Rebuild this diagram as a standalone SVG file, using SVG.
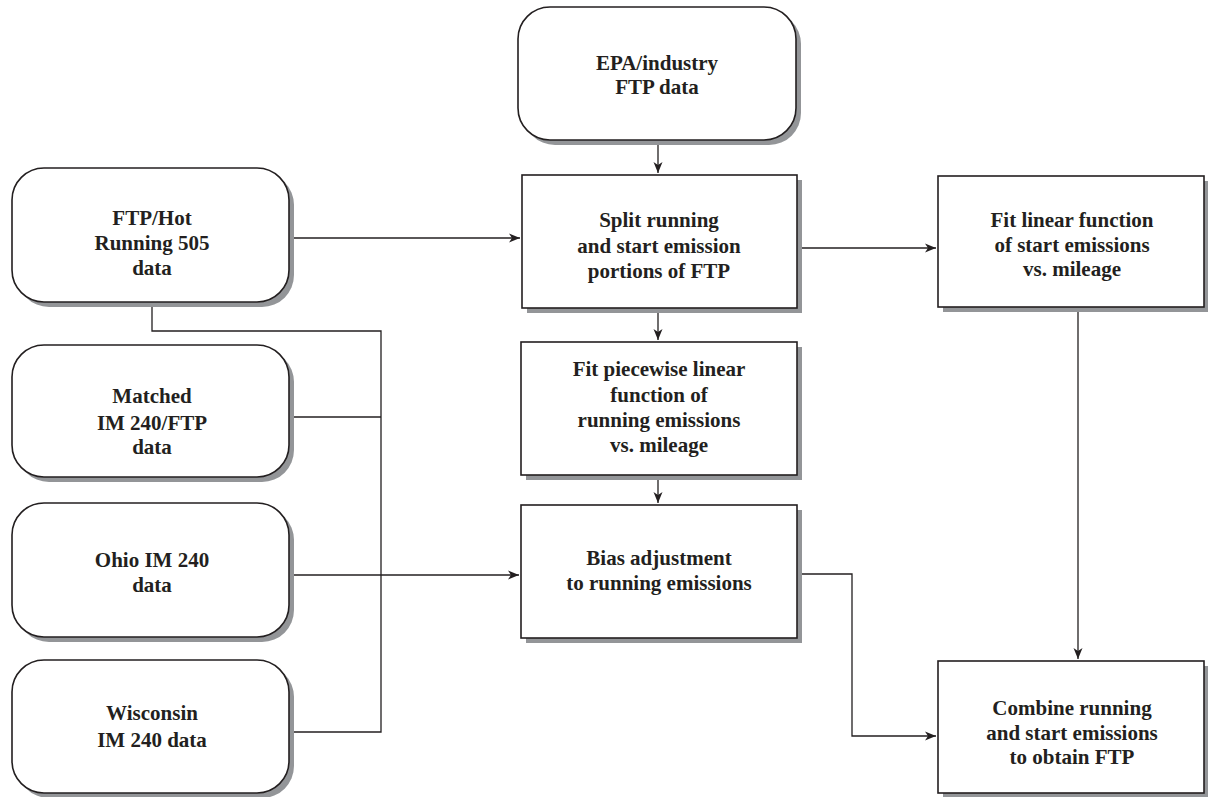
<svg xmlns="http://www.w3.org/2000/svg" width="1208" height="797" viewBox="0 0 1208 797">
<style>
.box{fill:#fff;stroke:#231f20;stroke-width:1.6}
.sh{fill:#939598;stroke:none}
.t{font-family:"Liberation Serif",serif;font-weight:bold;font-size:21px;fill:#231f20;text-anchor:middle}
.c{fill:none;stroke:#231f20;stroke-width:1.3}
</style>
<defs>
<marker id="ar" markerWidth="12" markerHeight="10" refX="11" refY="5" orient="auto" markerUnits="userSpaceOnUse">
<path d="M0,0.5 L11,5 L0,9.5 L3,5 Z" fill="#231f20"/>
</marker>
</defs>
<g id="connectors">
<path class="c" d="M658,140 V173" marker-end="url(#ar)"/>
<path class="c" d="M658,308 V340" marker-end="url(#ar)"/>
<path class="c" d="M658,475 V503" marker-end="url(#ar)"/>
<path class="c" d="M289,238 H520" marker-end="url(#ar)"/>
<path class="c" d="M797,248 H936" marker-end="url(#ar)"/>
<path class="c" d="M1078,307 V659" marker-end="url(#ar)"/>
<path class="c" d="M152,302 V331 H381 V732 H289"/>
<path class="c" d="M289,417 H381"/>
<path class="c" d="M289,575 H519" marker-end="url(#ar)"/>
<path class="c" d="M797,574 H852 V736 H936" marker-end="url(#ar)"/>
</g>
<g id="epa">
<rect class="sh" x="523" y="12" width="278" height="133" rx="32"/>
<rect class="box" x="518" y="7" width="278" height="133" rx="32"/>
<text class="t" x="657" y="70">EPA/industry</text>
<text class="t" x="657" y="94">FTP data</text>
</g>
<g id="split">
<rect class="sh" x="527" y="180" width="275" height="133"/>
<rect class="box" x="522" y="175" width="275" height="133"/>
<text class="t" x="659" y="227">Split running</text>
<text class="t" x="659" y="253">and start emission</text>
<text class="t" x="659" y="278">portions of FTP</text>
</g>
<g id="piecewise">
<rect class="sh" x="526" y="347" width="276" height="133"/>
<rect class="box" x="521" y="342" width="276" height="133"/>
<text class="t" x="659" y="376">Fit piecewise linear</text>
<text class="t" x="659" y="402">function of</text>
<text class="t" x="659" y="427">running emissions</text>
<text class="t" x="659" y="452">vs. mileage</text>
</g>
<g id="bias">
<rect class="sh" x="526" y="510" width="276" height="133"/>
<rect class="box" x="521" y="505" width="276" height="133"/>
<text class="t" x="659" y="565">Bias adjustment</text>
<text class="t" x="659" y="590">to running emissions</text>
</g>
<g id="fitlinear">
<rect class="sh" x="943" y="181" width="267" height="131"/>
<rect class="box" x="938" y="176" width="266" height="131"/>
<text class="t" x="1072" y="227">Fit linear function</text>
<text class="t" x="1072" y="252">of start emissions</text>
<text class="t" x="1072" y="276">vs. mileage</text>
</g>
<g id="combine">
<rect class="sh" x="943" y="666" width="267" height="132"/>
<rect class="box" x="938" y="661" width="266" height="132"/>
<text class="t" x="1072" y="715">Combine running</text>
<text class="t" x="1072" y="740">and start emissions</text>
<text class="t" x="1072" y="764">to obtain FTP</text>
</g>
<g id="ftphot">
<rect class="sh" x="17" y="173" width="277" height="134" rx="32"/>
<rect class="box" x="12" y="168" width="277" height="134" rx="32"/>
<text class="t" x="152" y="225">FTP/Hot</text>
<text class="t" x="152" y="250">Running 505</text>
<text class="t" x="152" y="275">data</text>
</g>
<g id="matched">
<rect class="sh" x="17" y="350" width="277" height="132" rx="32"/>
<rect class="box" x="12" y="345" width="277" height="132" rx="32"/>
<text class="t" x="152" y="403">Matched</text>
<text class="t" x="152" y="430">IM 240/FTP</text>
<text class="t" x="152" y="454">data</text>
</g>
<g id="ohio">
<rect class="sh" x="17" y="508" width="277" height="134" rx="32"/>
<rect class="box" x="12" y="503" width="277" height="134" rx="32"/>
<text class="t" x="152" y="567">Ohio IM 240</text>
<text class="t" x="152" y="592">data</text>
</g>
<g id="wisconsin">
<rect class="sh" x="17" y="665" width="277" height="133" rx="32"/>
<rect class="box" x="12" y="660" width="277" height="133" rx="32"/>
<text class="t" x="152" y="720">Wisconsin</text>
<text class="t" x="152" y="747">IM 240 data</text>
</g>
</svg>
